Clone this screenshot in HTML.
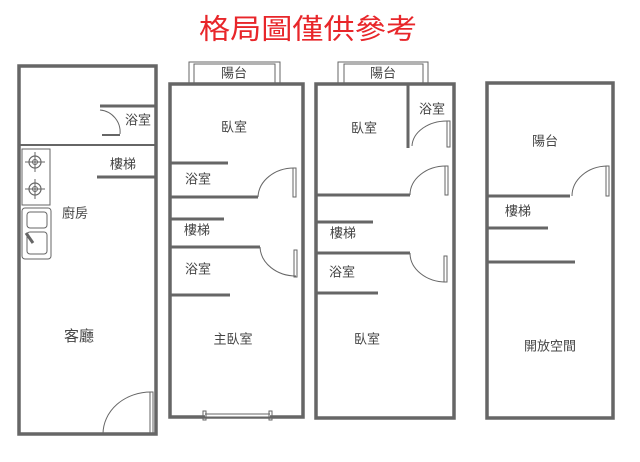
<!DOCTYPE html>
<html><head><meta charset="utf-8"><style>
html,body{margin:0;padding:0;background:#fff;width:640px;height:462px;overflow:hidden}
svg text{font-family:"Liberation Sans","Noto Sans CJK TC",sans-serif;fill:#444;font-size:13px;text-anchor:middle;dominant-baseline:middle}
</style></head><body>
<svg width="640" height="462" viewBox="0 0 640 462" xmlns="http://www.w3.org/2000/svg">
<text x="308" y="31" style="fill:#e8262a;font-size:28px" textLength="218" lengthAdjust="spacingAndGlyphs">格局圖僅供參考</text>
<g fill="none" stroke="#666">
<!-- plan1 -->
<rect x="19" y="66" width="137" height="368" stroke-width="3.5"/>
<line x1="20" y1="145" x2="155" y2="145" stroke-width="2"/>
<line x1="100" y1="106" x2="155" y2="106" stroke-width="3"/>
<line x1="97" y1="177" x2="155" y2="177" stroke-width="3"/>
<path d="M100,110 A22,22 0 0 1 120,134" stroke-width="1"/>
<line x1="102" y1="135" x2="120" y2="135" stroke-width="2"/>
<rect x="22" y="149" width="28" height="56" stroke-width="1"/>
<circle cx="35" cy="162" r="6" stroke-width="1.2"/><circle cx="35" cy="162" r="2.5" stroke-width="1"/>
<circle cx="35" cy="189" r="6" stroke-width="1.2"/><circle cx="35" cy="189" r="2.5" stroke-width="1"/>
<path d="M25,162h20M35,152v20M25,189h20M35,179v20" stroke-width="1"/>
<rect x="22" y="208" width="29" height="51" rx="3" stroke-width="1"/>
<rect x="27" y="212" width="20" height="16" rx="3" stroke-width="1"/>
<rect x="27" y="232" width="20" height="22" rx="3" stroke-width="1"/>
<path d="M26,233 L33,243" stroke-width="3"/>
<path d="M103,434 A48,42 0 0 1 151,392" stroke-width="1"/>
<rect x="150" y="392" width="3" height="42" stroke-width="1"/>
<!-- plan2 -->
<rect x="189" y="62" width="91" height="22" stroke-width="1"/>
<rect x="194" y="64" width="81" height="20" stroke-width="1"/>
<rect x="170" y="84" width="133" height="333" stroke-width="3.5"/>
<line x1="170" y1="163" x2="228" y2="163" stroke-width="3"/>
<line x1="170" y1="197" x2="258" y2="197" stroke-width="3"/>
<line x1="170" y1="219" x2="224" y2="219" stroke-width="3"/>
<line x1="170" y1="247" x2="260" y2="247" stroke-width="3"/>
<line x1="170" y1="295" x2="230" y2="295" stroke-width="3"/>
<path d="M258,197 A36,30 0 0 1 294,168" stroke-width="1"/>
<rect x="293" y="168" width="3" height="29" stroke-width="1"/>
<path d="M260,247 A36,30 0 0 0 296,276" stroke-width="1"/>
<rect x="294" y="250" width="3" height="27" stroke-width="1"/>
<line x1="205" y1="415" x2="270" y2="415" stroke="#fff" stroke-width="3"/>
<line x1="205" y1="414" x2="270" y2="414" stroke-width="1"/>
<line x1="205" y1="418" x2="270" y2="418" stroke-width="1"/>
<rect x="203" y="411" width="3" height="9" stroke-width="1"/>
<rect x="269" y="411" width="3" height="9" stroke-width="1"/>
<!-- plan3 -->
<rect x="338" y="62" width="90" height="22" stroke-width="1"/>
<rect x="344" y="64" width="79" height="20" stroke-width="1"/>
<rect x="316" y="84" width="138" height="334" stroke-width="3.5"/>
<line x1="408" y1="84" x2="408" y2="148" stroke-width="3"/>
<line x1="316" y1="195" x2="410" y2="195" stroke-width="3"/>
<line x1="316" y1="222" x2="373" y2="222" stroke-width="3"/>
<line x1="316" y1="253" x2="410" y2="253" stroke-width="3"/>
<line x1="316" y1="293" x2="378" y2="293" stroke-width="3"/>
<path d="M412,146 A35,26 0 0 1 447,121" stroke-width="1"/>
<rect x="447" y="121" width="3" height="26" stroke-width="1"/>
<path d="M410,195 A36,29 0 0 1 446,166" stroke-width="1"/>
<rect x="445" y="166" width="3" height="29" stroke-width="1"/>
<path d="M410,253 A36,29 0 0 0 446,282" stroke-width="1"/>
<rect x="444" y="256" width="3" height="26" stroke-width="1"/>
<!-- plan4 -->
<rect x="487" y="83" width="126" height="335" stroke-width="3.5"/>
<line x1="487" y1="196" x2="570" y2="196" stroke-width="3"/>
<line x1="487" y1="228" x2="548" y2="228" stroke-width="3"/>
<line x1="487" y1="262" x2="575" y2="262" stroke-width="3"/>
<path d="M572,196 A36,30 0 0 1 607,166" stroke-width="1"/>
<rect x="606" y="166" width="3" height="30" stroke-width="1"/>
</g>
<text x="138" y="121">浴室</text>
<text x="123" y="165">樓梯</text>
<text x="75" y="214">廚房</text>
<text x="79" y="337" style="font-size:15px">客廳</text>
<text x="234" y="74">陽台</text>
<text x="234" y="128">臥室</text>
<text x="198" y="180">浴室</text>
<text x="197" y="231">樓梯</text>
<text x="198" y="270">浴室</text>
<text x="233" y="340">主臥室</text>
<text x="383" y="74">陽台</text>
<text x="432" y="110">浴室</text>
<text x="364" y="129">臥室</text>
<text x="343" y="234">樓梯</text>
<text x="342" y="273">浴室</text>
<text x="367" y="340">臥室</text>
<text x="545" y="142">陽台</text>
<text x="518" y="212">樓梯</text>
<text x="550" y="347">開放空間</text>
</svg>
</body></html>
